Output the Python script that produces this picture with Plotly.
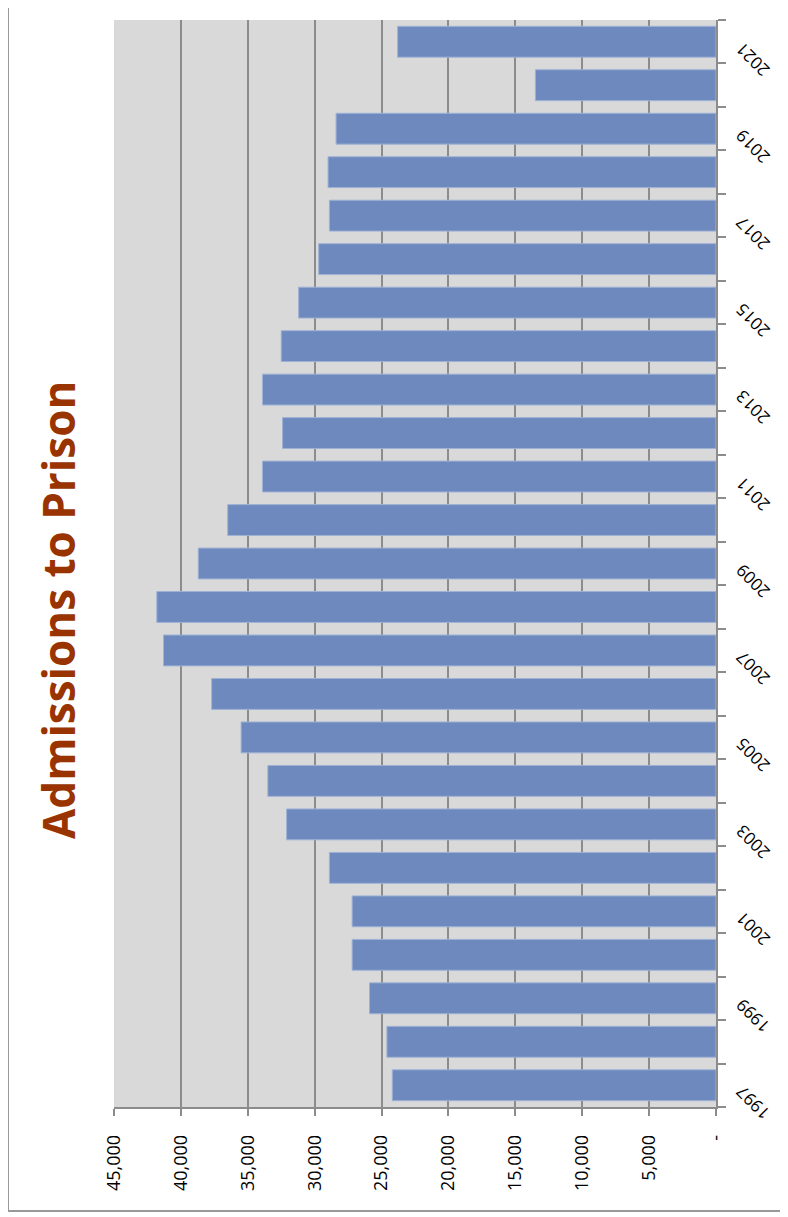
import plotly.graph_objects as go

years = [str(y) for y in range(1997, 2022)]
admissions = [24200, 24600, 25900, 27200, 27200, 28900, 32100, 33500, 35500, 37700,
              41300, 41800, 38700, 36500, 33900, 32400, 33900, 32500, 31200, 29700,
              28900, 29000, 28400, 13500, 23800]
value_ticks = [0, 5000, 10000, 15000, 20000, 25000, 30000, 35000, 40000, 45000]
value_labels = ["-" if v == 0 else f"{v:,}" for v in value_ticks]

# page body has an 8px margin, so work in reference pixels minus 8
OFF = 8
W, H = 788 - OFF, 1217 - OFF
L, R, T, B = 114 - OFF, 716 - OFF, 20 - OFF, 1107 - OFF

def px_x(p):
    return (p - OFF - L) / (R - L)

def px_y(p):
    return (B - (p - OFF)) / (B - T)

grey = "#8c8c8c"
font = "Open Sans"

fig = go.Figure(go.Bar(
    x=admissions, y=years, orientation="h",
    marker=dict(color="#6d89bd", line=dict(color="#9fb2d6", width=1)),
))

fig.update_layout(
    width=W, height=H,
    margin=dict(l=L, r=W - R, t=T, b=H - B, autoexpand=False),
    paper_bgcolor="white", plot_bgcolor="#d9d9d9",
    bargap=0.29, showlegend=False,
    font=dict(family=font, size=18, color="black"),
    xaxis=dict(
        range=[45000, 0], tickvals=value_ticks, ticktext=value_labels,
        tickangle=-90, ticks="outside", ticklen=7, tickcolor=grey, tickwidth=1.5,
        showgrid=True, gridcolor=grey, gridwidth=1.5,
        showline=True, linecolor=grey, linewidth=1.5, zeroline=False,
        tickfont=dict(size=18), ticklabelstandoff=12, automargin=False,
    ),
    yaxis=dict(
        type="category", categoryarray=years, categoryorder="array",
        side="right", tickvals=years, showticklabels=False,
        tickson="boundaries", ticks="outside", ticklen=8, tickcolor=grey, tickwidth=1.5,
        showgrid=False, showline=True, linecolor=grey, linewidth=1.5,
        range=[-0.5, len(years) - 0.5], automargin=False,
    ),
)

for i, y in enumerate(years):
    if int(y) % 2 == 1:
        fig.add_annotation(
            text=y, textangle=-135, xref="paper", yref="y",
            x=px_x(753), y=i, yshift=-18, showarrow=False,
            xanchor="center", yanchor="middle",
            font=dict(family=font, size=17, color="black"),
        )

fig.add_annotation(
    text="<b>Admissions to Prison</b>", textangle=-90,
    xref="paper", yref="paper", x=px_x(58), y=px_y(610),
    xanchor="center", yanchor="middle",
    showarrow=False, font=dict(family=font, size=44, color="#993300"),
)

fig.add_shape(type="line", xref="paper", yref="paper",
              x0=px_x(8), x1=px_x(8), y0=px_y(1211), y1=px_y(-10),
              line=dict(color="#999999", width=2))
fig.add_shape(type="line", xref="paper", yref="paper",
              x0=px_x(8), x1=px_x(800), y0=px_y(1211), y1=px_y(1211),
              line=dict(color="#999999", width=2))

fig.write_html("out.html")
